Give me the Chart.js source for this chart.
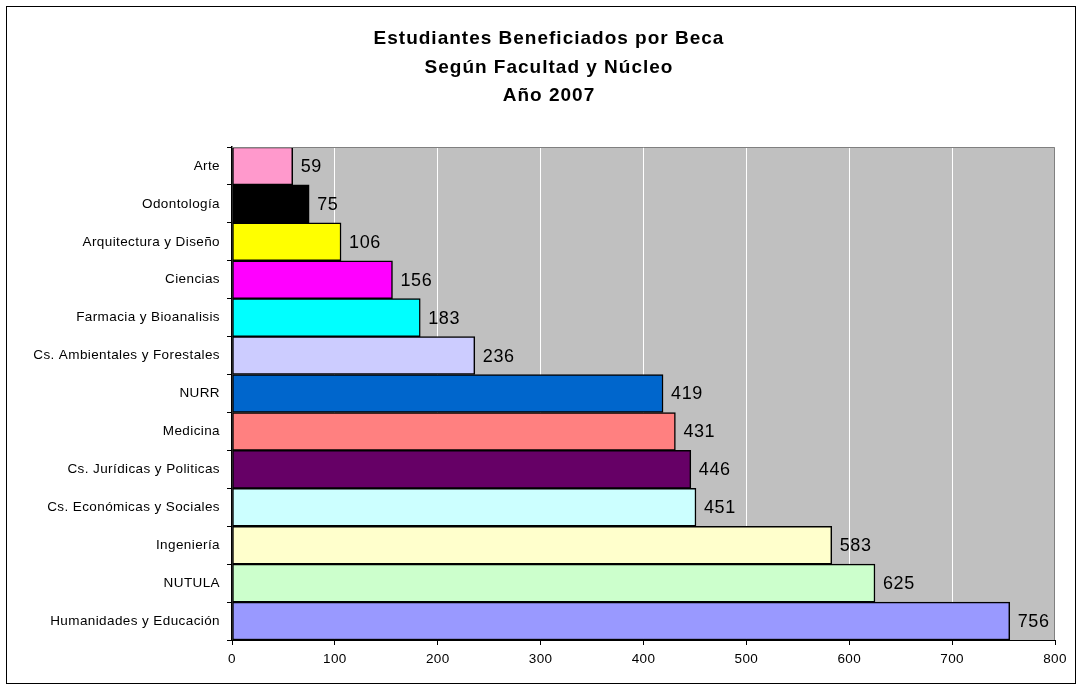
<!DOCTYPE html>
<html>
<head>
<meta charset="utf-8">
<script src="https://cdn.jsdelivr.net/npm/chart.js@4/dist/chart.umd.min.js"></script>
<style>
  html, body { margin: 0; padding: 0; background: #fff; }
  #wrap { width: 1083px; height: 690px; }
</style>
</head>
<body>
<div id="wrap"><canvas id="becasChart" width="1083" height="690"></canvas></div>
<script>
const titleLines = [
  "Estudiantes Beneficiados por Beca",
  "Según Facultad y Núcleo",
  "Año 2007",
];

const facultades = [
  "Arte",
  "Odontología",
  "Arquitectura y Diseño",
  "Ciencias",
  "Farmacia y Bioanalisis",
  "Cs. Ambientales y Forestales",
  "NURR",
  "Medicina",
  "Cs. Jurídicas y Politicas",
  "Cs. Económicas y Sociales",
  "Ingeniería",
  "NUTULA",
  "Humanidades y Educación",
];

const estudiantes = [59, 75, 106, 156, 183, 236, 419, 431, 446, 451, 583, 625, 756];

const barColors = [
  "#FF99CC", "#000000", "#FFFF00", "#FF00FF", "#00FFFF", "#CCCCFF",
  "#0066CC", "#FF8080", "#660066", "#CCFFFF", "#FFFFCC", "#CCFFCC", "#9999FF",
];

const xMin = 0;
const xMax = 800;
const xStep = 100;

const font = "'Liberation Sans', Arial, sans-serif";

// gray plot area, outer frame and title
const plotBackground = {
  id: "plotBackground",
  beforeDraw(chart) {
    const { ctx, chartArea: a } = chart;
    ctx.save();
    ctx.fillStyle = "#fff";
    ctx.fillRect(0, 0, chart.width, chart.height);
    ctx.strokeStyle = "#000";
    ctx.lineWidth = 1;
    ctx.strokeRect(6.5, 6.5, 1069, 677);
    ctx.fillStyle = "#C0C0C0";
    ctx.fillRect(a.left, a.top, a.right - a.left, a.bottom - a.top);

    ctx.fillStyle = "#000";
    ctx.font = `bold 19px ${font}`;
    ctx.letterSpacing = "1px";
    ctx.textAlign = "center";
    ctx.textBaseline = "middle";
    titleLines.forEach((line, i) => {
      ctx.fillText(line, 549, 39 + i * 28.5);
    });
    ctx.restore();
    // slightly spaced lettering for the axis labels, like the original
    ctx.letterSpacing = "0.4px";
  },
  afterDatasetsDraw(chart) {
    const { ctx, chartArea: a } = chart;
    ctx.save();
    ctx.strokeStyle = "#808080";
    ctx.lineWidth = 1;
    ctx.beginPath();
    ctx.moveTo(a.left, a.top + 0.5);
    ctx.lineTo(a.right - 0.5, a.top + 0.5);
    ctx.lineTo(a.right - 0.5, a.bottom);
    ctx.stroke();
    ctx.restore();
  },
};

const valueLabels = {
  id: "valueLabels",
  afterDatasetsDraw(chart) {
    const { ctx } = chart;
    const meta = chart.getDatasetMeta(0);
    ctx.save();
    ctx.font = `18px ${font}`;
    ctx.letterSpacing = "0.6px";
    ctx.fillStyle = "#000";
    ctx.textAlign = "left";
    ctx.textBaseline = "middle";
    meta.data.forEach((bar, i) => {
      ctx.fillText(String(estudiantes[i]), bar.x + 8, bar.y + 1);
    });
    ctx.restore();
  },
};

new Chart(document.getElementById("becasChart"), {
  type: "bar",
  data: {
    labels: facultades,
    datasets: [
      {
        data: estudiantes,
        backgroundColor: barColors,
        borderColor: "#000",
        borderWidth: 1.5,
        borderSkipped: false,
        categoryPercentage: 1,
        barPercentage: 1,
      },
    ],
  },
  options: {
    indexAxis: "y",
    responsive: false,
    animation: false,
    layout: { padding: { left: 0, right: 28, top: 147, bottom: 0 } },
    plugins: {
      legend: { display: false },
      tooltip: { enabled: false },
      title: { display: false },
    },
    scales: {
      x: {
        min: xMin,
        max: xMax,
        ticks: {
          stepSize: xStep,
          color: "#000",
          font: { family: font, size: 13.5 },
          padding: 6,
        },
        grid: { color: "#fff", tickColor: "#000", tickLength: 5, lineWidth: 1 },
        border: { color: "#000", width: 1 },
        afterFit(scale) { scale.height = 50; },
      },
      y: {
        ticks: {
          color: "#000",
          font: { family: font, size: 13.5 },
          padding: 7,
        },
        grid: { drawOnChartArea: false, tickColor: "#000", tickLength: 5 },
        border: { color: "#000", width: 1.5 },
        afterFit(scale) { scale.width = 232; },
      },
    },
  },
  plugins: [plotBackground, valueLabels],
});
</script>
</body>
</html>
